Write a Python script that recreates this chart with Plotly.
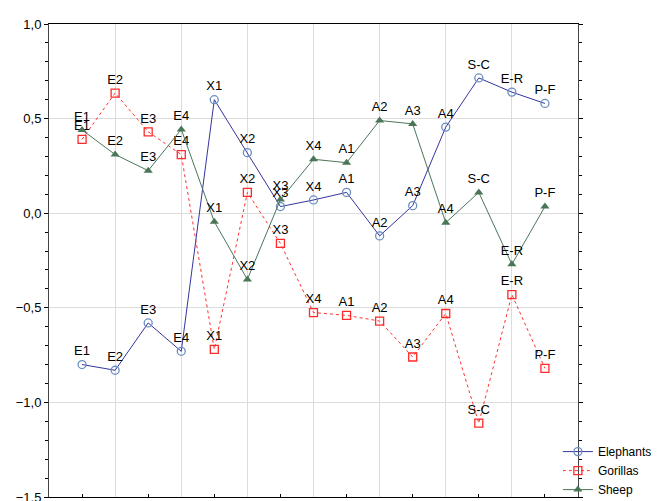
import plotly.graph_objects as go

categories = ["E1", "E2", "E3", "E4", "X1", "X2", "X3", "X4",
              "A1", "A2", "A3", "A4", "S-C", "E-R", "P-F"]
positions = list(range(1, len(categories) + 1))

elephants = [-0.80, -0.83, -0.58, -0.73, 0.60, 0.32, 0.035, 0.07,
             0.11, -0.12, 0.04, 0.455, 0.715, 0.64, 0.58]
gorillas = [0.39, 0.635, 0.43, 0.31, -0.72, 0.11, -0.16, -0.525,
            -0.54, -0.57, -0.76, -0.53, -1.11, -0.43, -0.82]
sheep = [0.44, 0.31, 0.225, 0.443, -0.045, -0.35, 0.072, 0.285,
         0.267, 0.49, 0.472, -0.05, 0.11, -0.27, 0.035]

y_ticks = [-1.5, -1.0, -0.5, 0.0, 0.5, 1.0]

FONT = "Liberation Sans, Arial, sans-serif"

fig = go.Figure()
fig.add_trace(go.Scatter(
    x=positions, y=elephants, name="Elephants", mode="lines+markers+text",
    text=categories, textposition="top center",
    textfont=dict(family=FONT, size=13, color="black"),
    line=dict(color="#3535a0", width=1),
    marker=dict(symbol="circle-open", size=8, color="#6a8ec4", line=dict(width=1.3)),
))
fig.add_trace(go.Scatter(
    x=positions, y=gorillas, name="Gorillas", mode="lines+markers+text",
    text=categories, textposition="top center",
    textfont=dict(family=FONT, size=13, color="black"),
    line=dict(color="#ff3030", width=1, dash="dot"),
    marker=dict(symbol="square-open", size=8, color="#ff2a2a", line=dict(width=1.3)),
))
fig.add_trace(go.Scatter(
    x=positions, y=sheep, name="Sheep", mode="lines+markers+text",
    text=categories, textposition="top center",
    textfont=dict(family=FONT, size=13, color="black"),
    line=dict(color="#4a7658", width=1),
    marker=dict(symbol="triangle-up", size=8, color="#4a7658"),
))

fig.update_layout(
    width=666, height=501,
    margin=dict(l=41, r=96, t=16, b=5),
    plot_bgcolor="white", paper_bgcolor="white",
    separators=",.",
    font=dict(family=FONT, size=13, color="black"),
    showlegend=True,
    legend=dict(x=0.962, xanchor="left", y=-0.015, yanchor="bottom",
                font=dict(family=FONT, size=12, color="black"),
                bgcolor="rgba(0,0,0,0)", itemwidth=30, tracegroupgap=0),
    xaxis=dict(range=[0, 16], tick0=0, dtick=2, showticklabels=False,
               showgrid=True, gridcolor="#dcdcdc", gridwidth=1,
               zeroline=False, showline=True, linecolor="black", linewidth=1,
               mirror=True, ticks="",
               minor=dict(dtick=1, tick0=0, ticks="inside", ticklen=3,
                          tickcolor="black", showgrid=False)),
    yaxis=dict(range=[-1.5, 1.0], tickvals=y_ticks, tickformat=".1f",
               ticklabeloverflow="allow",
               showgrid=True, gridcolor="#dcdcdc", gridwidth=1,
               zeroline=False, showline=True, linecolor="#444444", linewidth=1,
               mirror="allticks", ticks="outside", ticklen=4, tickcolor="black",
               tickfont=dict(family=FONT, size=13, color="black"),
               minor=dict(dtick=0.1, tick0=0, ticks="outside", ticklen=3,
                          tickcolor="black", showgrid=False)),
)

fig.write_html("out.html")
